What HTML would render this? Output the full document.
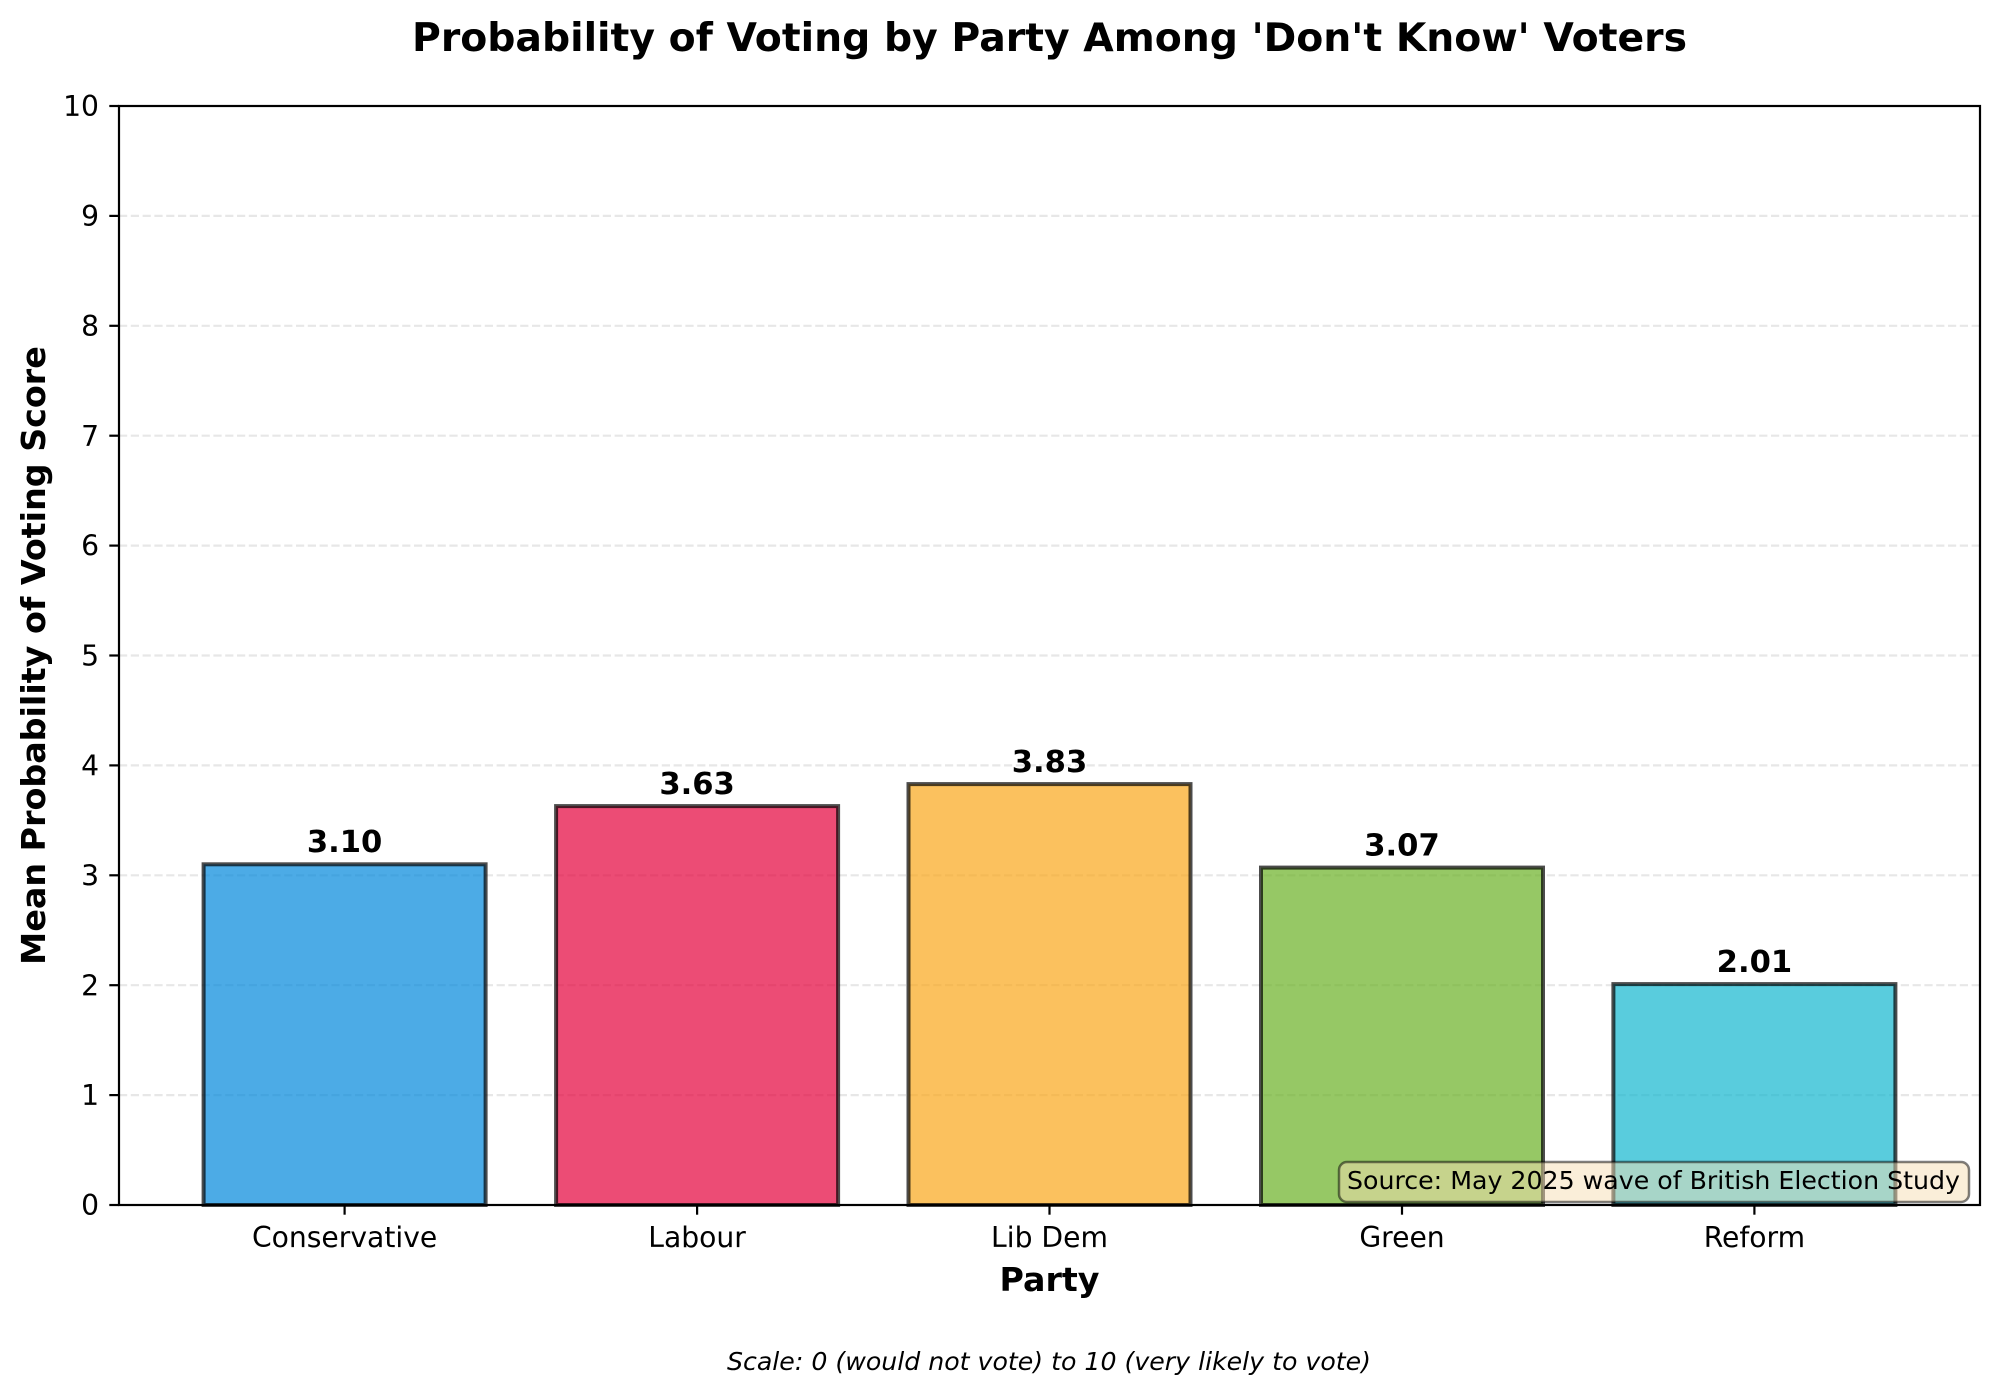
<!DOCTYPE html>
<html>
<head>
<meta charset="utf-8">
<style>
  html, body { margin: 0; padding: 0; background: #ffffff; }
  svg { display: block; }
  text { font-family: "DejaVu Sans", "Liberation Sans", sans-serif; fill: #000; }
</style>
</head>
<body>
<svg width="2000" height="1396" viewBox="0 0 2000 1396" xmlns="http://www.w3.org/2000/svg">
  <rect x="0" y="0" width="2000" height="1396" fill="#ffffff"/>

  <!-- Title -->
  <text x="1049.5" y="51" text-anchor="middle" font-size="39.2" font-weight="bold" textLength="1275" lengthAdjust="spacingAndGlyphs">Probability of Voting by Party Among 'Don't Know' Voters</text>

  <!-- Grid lines -->
  <g stroke="#b0b0b0" stroke-opacity="0.3" stroke-width="2.2" stroke-dasharray="8.2,3.6">
    <line x1="119" y1="1095.1" x2="1980" y2="1095.1"/>
    <line x1="119" y1="985.2" x2="1980" y2="985.2"/>
    <line x1="119" y1="875.3" x2="1980" y2="875.3"/>
    <line x1="119" y1="765.4" x2="1980" y2="765.4"/>
    <line x1="119" y1="655.5" x2="1980" y2="655.5"/>
    <line x1="119" y1="545.6" x2="1980" y2="545.6"/>
    <line x1="119" y1="435.7" x2="1980" y2="435.7"/>
    <line x1="119" y1="325.8" x2="1980" y2="325.8"/>
    <line x1="119" y1="215.9" x2="1980" y2="215.9"/>
  </g>

  <!-- Bars -->
  <g stroke="#000" stroke-opacity="0.7" stroke-width="4" fill-opacity="0.7">
    <rect x="203.6" y="864.3" width="282" height="340.7" fill="#0087DC"/>
    <rect x="556.1" y="806.1" width="282" height="398.9" fill="#E4003B"/>
    <rect x="908.5" y="784.1" width="282" height="420.9" fill="#FAA61A"/>
    <rect x="1261.0" y="867.6" width="282" height="337.4" fill="#6AB023"/>
    <rect x="1613.4" y="984.1" width="282" height="220.9" fill="#12B6CF"/>
  </g>

  <!-- Value labels -->
  <g font-size="30.6" font-weight="bold" text-anchor="middle">
    <text x="344.6" y="852">3.10</text>
    <text x="697.1" y="793.8">3.63</text>
    <text x="1049.5" y="771.8">3.83</text>
    <text x="1402.0" y="855.3">3.07</text>
    <text x="1754.4" y="971.8">2.01</text>
  </g>

  <!-- Source box -->
  <rect x="1339" y="1162" width="630" height="40" rx="8" ry="8" fill="#F5DEB3" fill-opacity="0.5" stroke="#000" stroke-opacity="0.5" stroke-width="2.5"/>
  <text x="1347" y="1189" font-size="25.2" textLength="613" lengthAdjust="spacingAndGlyphs">Source: May 2025 wave of British Election Study</text>

  <!-- Spines -->
  <rect x="119" y="106" width="1861" height="1099" fill="none" stroke="#000" stroke-width="2.2"/>

  <!-- Y ticks -->
  <g stroke="#000" stroke-width="2.2">
    <line x1="109.3" y1="1205" x2="119" y2="1205"/>
    <line x1="109.3" y1="1095.1" x2="119" y2="1095.1"/>
    <line x1="109.3" y1="985.2" x2="119" y2="985.2"/>
    <line x1="109.3" y1="875.3" x2="119" y2="875.3"/>
    <line x1="109.3" y1="765.4" x2="119" y2="765.4"/>
    <line x1="109.3" y1="655.5" x2="119" y2="655.5"/>
    <line x1="109.3" y1="545.6" x2="119" y2="545.6"/>
    <line x1="109.3" y1="435.7" x2="119" y2="435.7"/>
    <line x1="109.3" y1="325.8" x2="119" y2="325.8"/>
    <line x1="109.3" y1="215.9" x2="119" y2="215.9"/>
    <line x1="109.3" y1="106" x2="119" y2="106"/>
  </g>
  <g font-size="28.2" text-anchor="end">
    <text x="99" y="1215.1">0</text>
    <text x="99" y="1105.2">1</text>
    <text x="99" y="995.3">2</text>
    <text x="99" y="885.4">3</text>
    <text x="99" y="775.5">4</text>
    <text x="99" y="665.6">5</text>
    <text x="99" y="555.7">6</text>
    <text x="99" y="445.8">7</text>
    <text x="99" y="335.9">8</text>
    <text x="99" y="226">9</text>
    <text x="99" y="116.1">10</text>
  </g>

  <!-- X ticks -->
  <g stroke="#000" stroke-width="2.2">
    <line x1="344.6" y1="1205" x2="344.6" y2="1214.7"/>
    <line x1="697.1" y1="1205" x2="697.1" y2="1214.7"/>
    <line x1="1049.5" y1="1205" x2="1049.5" y2="1214.7"/>
    <line x1="1402.0" y1="1205" x2="1402.0" y2="1214.7"/>
    <line x1="1754.4" y1="1205" x2="1754.4" y2="1214.7"/>
  </g>
  <g font-size="28.2" text-anchor="middle">
    <text x="344.6" y="1247">Conservative</text>
    <text x="697.1" y="1247">Labour</text>
    <text x="1049.5" y="1247">Lib Dem</text>
    <text x="1402.0" y="1247">Green</text>
    <text x="1754.4" y="1247">Reform</text>
  </g>

  <!-- Axis labels -->
  <text x="1049.5" y="1291" text-anchor="middle" font-size="33.3" font-weight="bold">Party</text>
  <text transform="translate(45,655.5) rotate(-90)" text-anchor="middle" font-size="33.3" font-weight="bold">Mean Probability of Voting Score</text>

  <!-- Footnote -->
  <text x="1049" y="1370" text-anchor="middle" font-size="25.2" font-style="italic" textLength="644" lengthAdjust="spacingAndGlyphs">Scale: 0 (would not vote) to 10 (very likely to vote)</text>
</svg>
</body>
</html>
